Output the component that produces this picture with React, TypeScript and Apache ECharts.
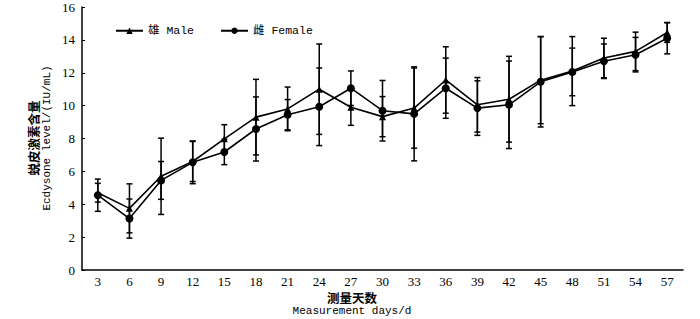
import React, { useEffect, useRef } from "react";
import * as echarts from "echarts";

const days = ["3", "6", "9", "12", "15", "18", "21", "24", "27", "30", "33", "36", "39", "42", "45", "48", "51", "54", "57"];
const maleMean = [4.7, 3.75, 5.7, 6.6, 7.98, 9.3, 9.8, 11.0, 9.9, 9.33, 9.85, 11.56, 10.05, 10.39, 11.55, 12.1, 12.9, 13.3, 14.45];
const maleSD = [0.57, 1.49, 2.32, 1.22, 0.86, 2.3, 1.33, 2.75, 1.1, 1.22, 2.44, 2.02, 1.66, 2.61, 2.65, 2.1, 1.2, 1.17, 0.6];
const femaleMean = [4.55, 3.13, 5.45, 6.55, 7.18, 8.58, 9.45, 9.93, 11.06, 9.69, 9.5, 11.06, 9.85, 10.05, 11.45, 12.05, 12.7, 13.1, 14.1];
const femaleSD = [0.98, 1.19, 1.15, 1.3, 0.77, 1.95, 0.92, 2.36, 1.05, 1.84, 2.86, 1.83, 1.66, 2.66, 2.75, 1.45, 1.05, 1.05, 0.95];
const yTicks = { min: 0, max: 16, interval: 2 };

const monoFont = "'Liberation Mono', 'Noto Sans CJK SC', monospace";
const serifFont = "'Liberation Serif', 'DejaVu Serif', serif";
const cjkFont = "'Noto Sans CJK SC', sans-serif";

function errData(mean: number[], sd: number[]) {
  return mean.map((m, i) => [i, m + sd[i], m - sd[i]]);
}

function errRender(params: any, api: any) {
  const i = api.value(0);
  const hi = api.coord([i, api.value(1)]);
  const lo = api.coord([i, api.value(2)]);
  const w = 3;
  const style = { stroke: "#000", lineWidth: 1.5 };
  return {
    type: "group",
    children: [
      { type: "line", shape: { x1: hi[0], y1: hi[1], x2: lo[0], y2: lo[1] }, style },
      { type: "line", shape: { x1: hi[0] - w, y1: hi[1], x2: hi[0] + w, y2: hi[1] }, style },
      { type: "line", shape: { x1: lo[0] - w, y1: lo[1], x2: lo[0] + w, y2: lo[1] }, style },
    ],
  };
}

export default function App() {
  const ref = useRef<HTMLDivElement>(null);
  useEffect(() => {
    if (!ref.current) return;
    const chart = echarts.init(ref.current, null, { renderer: "svg" });
    chart.setOption({
      animation: false,
      backgroundColor: "#fff",
      grid: { left: 82, right: 17, top: 7, bottom: 49 },
      legend: {
        left: 110,
        top: 20,
        itemWidth: 27,
        itemHeight: 8,
        itemGap: 26,
        textStyle: { fontFamily: monoFont, fontSize: 11.5, color: "#000" },
        data: ["雄 Male", "雌 Female"],
      },
      xAxis: {
        type: "category",
        data: days,
        boundaryGap: true,
        axisLine: { lineStyle: { color: "#000", width: 1.5 } },
        axisTick: { inside: true, length: 3, lineStyle: { color: "#000" } },
        axisLabel: { color: "#000", fontFamily: serifFont, fontSize: 13, margin: 5 },
      },
      yAxis: {
        type: "value",
        min: yTicks.min,
        max: yTicks.max,
        interval: yTicks.interval,
        splitLine: { show: false },
        axisLine: { show: true, lineStyle: { color: "#000", width: 1.5 } },
        axisTick: { show: true, inside: true, length: 3, lineStyle: { color: "#000" } },
        axisLabel: { color: "#000", fontFamily: serifFont, fontSize: 13, margin: 7 },
      },
      graphic: [
        {
          type: "text",
          x: 33,
          y: 138,
          rotation: Math.PI / 2,
          style: { text: "蜕皮激素含量", fontFamily: cjkFont, fontSize: 12.5, fontWeight: "bold", fill: "#000", textAlign: "center", textVerticalAlign: "middle" },
        },
        {
          type: "text",
          x: 47,
          y: 138,
          rotation: Math.PI / 2,
          style: { text: "Ecdysone level/(IU/mL)", fontFamily: monoFont, fontSize: 11, fill: "#000", textAlign: "center", textVerticalAlign: "middle" },
        },
        {
          type: "text",
          x: 352,
          y: 297,
          style: { text: "测量天数", fontFamily: cjkFont, fontSize: 12.5, fontWeight: "bold", fill: "#000", textAlign: "center", textVerticalAlign: "middle" },
        },
        {
          type: "text",
          x: 352,
          y: 311,
          style: { text: "Measurement days/d", fontFamily: monoFont, fontSize: 11, fill: "#000", textAlign: "center", textVerticalAlign: "middle" },
        },
      ],
      series: [
        {
          type: "custom",
          name: "maleErr",
          renderItem: errRender,
          data: errData(maleMean, maleSD),
          z: 1,
          silent: true,
        },
        {
          type: "custom",
          name: "femaleErr",
          renderItem: errRender,
          data: errData(femaleMean, femaleSD),
          z: 1,
          silent: true,
        },
        {
          type: "line",
          name: "雄 Male",
          data: maleMean,
          symbol: "triangle",
          symbolSize: 7,
          lineStyle: { color: "#000", width: 1.6 },
          itemStyle: { color: "#000" },
          z: 3,
        },
        {
          type: "line",
          name: "雌 Female",
          data: femaleMean,
          symbol: "circle",
          symbolSize: 8,
          lineStyle: { color: "#000", width: 1.6 },
          itemStyle: { color: "#000" },
          z: 3,
        },
      ],
    });
    return () => chart.dispose();
  }, []);
  return <div ref={ref} style={{ position: "absolute", left: 0, top: 0, width: 700, height: 319 }} />;
}
